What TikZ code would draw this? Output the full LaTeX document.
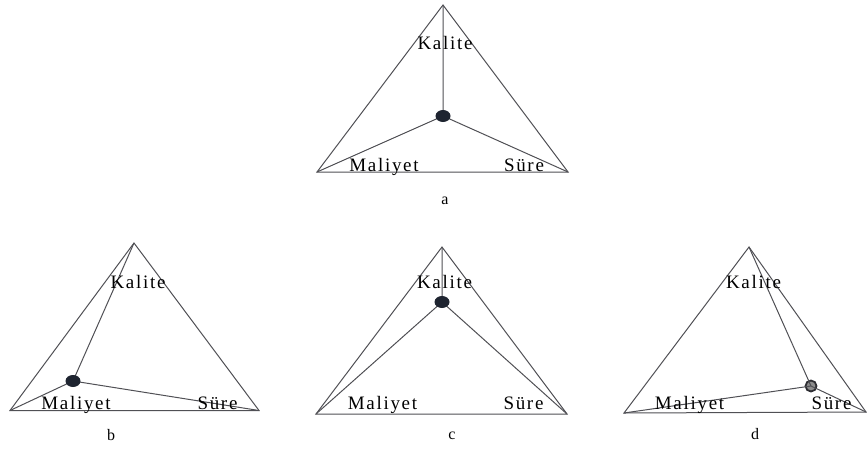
\documentclass[tikz,border=0pt]{standalone}
\usepackage{fontspec}
\usetikzlibrary{shapes.geometric}
\setmainfont{Liberation Serif}[LetterSpace=9]
\begin{document}
\begin{tikzpicture}[x=1pt,y=-1pt,
  edge/.style={draw={rgb,255:red,80;green,80;blue,85},line width=1pt},
  hub/.style={ellipse,fill={rgb,255:red,30;green,36;blue,48},minimum width=15pt,minimum height=12pt,inner sep=0pt},
  ringhub/.style={circle,draw={rgb,255:red,45;green,45;blue,50},line width=1.8pt,fill={rgb,255:red,140;green,140;blue,140},minimum size=11pt,inner sep=0pt},
  lbl/.style={anchor=base,inner sep=0pt,font=\fontsize{19}{19}\selectfont},
  figlbl/.style={anchor=base,inner sep=0pt,font=\fontsize{16}{16}\selectfont}]
\useasboundingbox (0,0) rectangle (868,448);
% --- a ---
\coordinate (aT) at (443,5);
\coordinate (aL) at (317,172);
\coordinate (aR) at (568,172);
\coordinate (aD) at (443,116);
\draw[edge] (aT) -- (aL) -- (aR) -- cycle;
\draw[edge] (aD) -- (aT) (aD) -- (aL) (aD) -- (aR);
\node[hub] (aH) at (aD) {};
\node[lbl] (aK) at (445,49) {Kalite};
\node[lbl] (aM) at (384,171) {Maliyet};
\node[lbl] (aS) at (524,171) {Süre};
\node[figlbl] (aC) at (445,204) {a};
% --- b ---
\coordinate (bT) at (134,243);
\coordinate (bL) at (10,410.5);
\coordinate (bR) at (259,410.5);
\coordinate (bD) at (73,381);
\draw[edge] (bT) -- (bL) -- (bR) -- cycle;
\draw[edge] (bD) -- (bT) (bD) -- (bL) (bD) -- (bR);
\node[hub] (bH) at (bD) {};
\node[lbl] (bK) at (138,288) {Kalite};
\node[lbl] (bM) at (76,409) {Maliyet};
\node[lbl] (bS) at (217.5,409) {Süre};
\node[figlbl] (bC) at (111,440) {b};
% --- c ---
\coordinate (cT) at (442,247);
\coordinate (cL) at (316,414);
\coordinate (cR) at (567,414);
\coordinate (cD) at (442,302);
\draw[edge] (cT) -- (cL) -- (cR) -- cycle;
\draw[edge] (cD) -- (cT) (cD) -- (cL) (cD) -- (cR);
\node[hub] (cH) at (cD) {};
\node[lbl] (cK) at (444.5,288) {Kalite};
\node[lbl] (cM) at (382.5,409) {Maliyet};
\node[lbl] (cS) at (523.5,409) {Süre};
\node[figlbl] (cC) at (452,439) {c};
% --- d ---
\coordinate (dT) at (749,247);
\coordinate (dL) at (624,413);
\coordinate (dR) at (866,412);
\coordinate (dD) at (811,386);
\draw[edge] (dT) -- (dL) -- (dR) -- cycle;
\node[ringhub] (dH) at (dD) {};
\draw[edge] (dD) -- (dT) (dD) -- (dL) (dD) -- (dR);
\node[lbl] (dK) at (753.5,288) {Kalite};
\node[lbl] (dM) at (689.5,409) {Maliyet};
\node[lbl] (dS) at (831.5,409) {Süre};
\node[figlbl] (dC) at (755,439) {d};
\end{tikzpicture}
\end{document}
